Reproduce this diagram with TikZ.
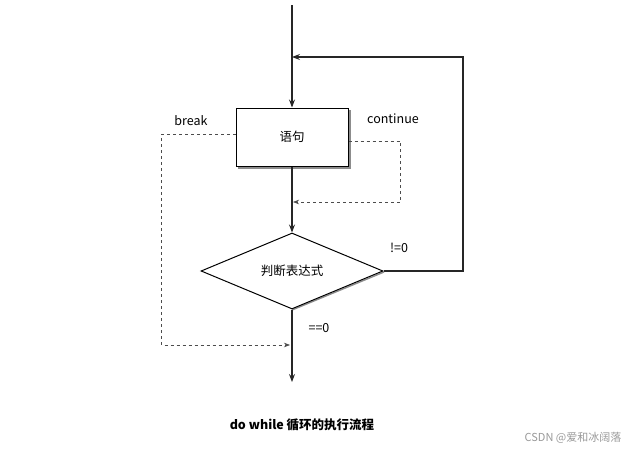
\documentclass[tikz,border=0pt]{standalone}
\usepackage{fontspec}
\setmainfont{Noto Sans CJK SC}
\usepackage{tikz}
\usetikzlibrary{arrows.meta,positioning,shapes.geometric}

\begin{document}
\begin{tikzpicture}[x=1pt, y=-1pt, >=Stealth, every node/.style={font=\fontsize{12.5}{15}\selectfont},
  flow/.style={draw=black!85, line width=1.1pt},
  jump/.style={draw=black!70, dashed, line width=0.7pt},
  stmtbox/.style={draw, line width=1pt, fill=white, minimum width=112pt, minimum height=58pt, inner sep=0pt},
  testbox/.style={diamond, draw, line width=1pt, fill=white, minimum width=182pt, minimum height=76pt, inner sep=0pt, aspect=2.4}]
  \useasboundingbox (0,0) rectangle (630,450);

  % Nodes (with a grey shadow edge)
  \draw[black!45, line width=1.4pt] (238,168) -- (350,168) -- (350,110);
  \draw[black!45, line width=1.4pt] (292,310) -- (384,272);
  \node[stmtbox] (stmt) at (292,137) {语句};
  \node[testbox] (test) at (292,271) {判断表达式};

  % free ends
  \coordinate (start) at (292,5);
  \coordinate (loopin) at (292,57);
  \coordinate (stop) at (292,382);
  \coordinate (done) at (292,345);
  \coordinate (back) at (292,202);

  % main flow
  \draw[flow,->] (start) -- (stmt.north);
  \draw[flow,->] (stmt.south) -- (test.north);
  \draw[flow,->] (test.south) -- (stop);
  \draw[flow,->] (test.east) -- (463,271) -- (463,57) -- (loopin);

  % continue / break
  \draw[jump,->] ([yshift=-4pt]stmt.east) -- ++(52,0) |- ([xshift=1pt]back);
  \draw[jump,->] ([yshift=3pt]stmt.west) -- ++(-74,0) |- ([xshift=-2pt]done);

  % labels
  \node (brk) at (191,121) {break};
  \node (cnt) at (393,119) {continue};
  \node (ne) at (399,248) {!=0};
  \node (eq) at (319,328) {==0};

  % caption
  \node[font=\fontsize{12.5}{15}\selectfont\bfseries] (title) at (302,425) {do while 循环的执行流程};
  \node[text=black!40, font=\fontsize{11}{13}\selectfont] (mark) at (573,438) {CSDN @爱和冰阔落};
\end{tikzpicture}
\end{document}
